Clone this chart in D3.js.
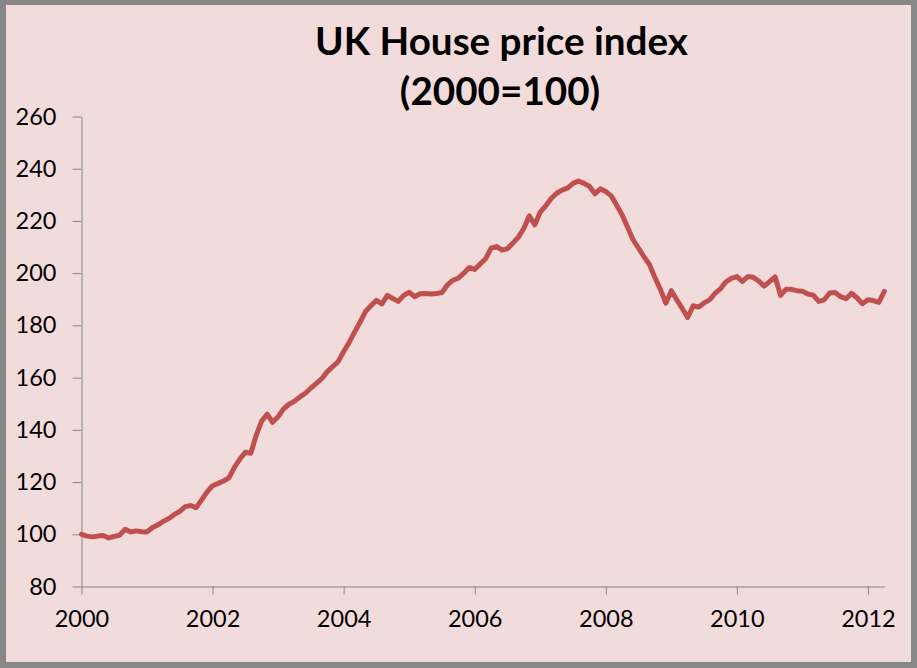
<!DOCTYPE html>
<html>
<head>
<meta charset="utf-8">
<script src="https://cdn.jsdelivr.net/npm/d3@7"></script>
<style>
  html, body { margin: 0; padding: 0; background: #ffffff; }
  svg { display: block; }
</style>
</head>
<body>
<svg id="chart" width="917" height="668"></svg>
<script>
// ---------------- DATA ----------------
const titleLines = ["UK House price index", "(2000=100)"];
const startYear = 2000;          // first monthly observation: Jan 2000
// Monthly index values, Jan 2000 .. Apr 2012 (read from the picture)
const hpi = [
  100.0, 99.3, 99.0, 99.3, 99.5, 98.6, 99.2, 99.7, 101.9, 100.9, 101.3, 101.0,
  100.9, 102.6, 103.6, 105.0, 106.0, 107.6, 108.8, 110.6, 111.0, 110.2, 113.2, 116.2,
  118.6, 119.5, 120.4, 121.6, 125.6, 128.8, 131.4, 131.0, 138.0, 143.4, 146.0, 142.9,
  145.0, 148.0, 149.8, 151.0, 152.6, 154.0, 156.0, 157.8, 159.6, 162.3, 164.2, 166.1,
  170.0, 173.4, 177.4, 181.2, 185.3, 187.5, 189.6, 188.2, 191.5, 190.3, 189.2, 191.5,
  192.7, 191.0, 192.1, 192.2, 192.0, 192.2, 192.6, 195.5, 197.3, 198.1, 200.0, 202.2,
  201.4, 203.5, 205.5, 209.6, 210.2, 208.8, 209.4, 211.5, 213.8, 217.2, 222.0, 218.5,
  223.4, 225.8, 228.6, 230.6, 231.8, 232.6, 234.4, 235.3, 234.4, 233.3, 230.4, 232.3,
  231.3, 229.6, 226.0, 222.3, 217.6, 212.8, 209.6, 206.3, 203.3, 198.3, 193.8, 188.5,
  193.3, 189.8, 186.5, 183.0, 187.5, 187.0, 188.6, 189.8, 192.3, 194.0, 196.7, 198.0,
  198.7, 196.8, 198.7, 198.4, 197.0, 195.0, 196.8, 198.6, 191.5, 193.8, 193.8, 193.3,
  193.1, 192.0, 191.6, 189.2, 189.8, 192.4, 192.6, 191.0, 190.2, 192.3, 190.6, 188.3,
  189.8, 189.5, 188.8, 193.0
];
const xTickYears = [2000, 2002, 2004, 2006, 2008, 2010, 2012];
const yTicks = [80, 100, 120, 140, 160, 180, 200, 220, 240, 260];

// ---------------- DRAWING ----------------
const W = 917, H = 668;
const FONT = "Lato, 'Open Sans', 'DejaVu Sans', sans-serif";
const svg = d3.select("#chart");

// frame + background
svg.append("rect").attr("x", 0).attr("y", 0).attr("width", W).attr("height", H).attr("fill", "#878787");
svg.append("rect").attr("x", 6).attr("y", 5).attr("width", 905).attr("height", 657).attr("fill", "#F2DCDB");

const x = d3.scaleLinear().domain([0, hpi.length - 1]).range([81.5, 884.3]);
const y = d3.scaleLinear().domain([80, 260]).range([586.5, 116.5]);

// Y axis
const yAxis = d3.axisLeft(y).tickValues(yTicks).tickSize(9).tickSizeOuter(0).tickPadding(16)
  .tickFormat(d3.format("d"));
const gy = svg.append("g").attr("transform", "translate(81.5,0)").call(yAxis);

// X axis
const xAxis = d3.axisBottom(x)
  .tickValues(xTickYears.map(yr => (yr - startYear) * 12))
  .tickFormat(m => String(startYear + m / 12))
  .tickSize(8).tickSizeOuter(0).tickPadding(16);
const gx = svg.append("g").attr("transform", "translate(0,586.5)").call(xAxis);

[gx, gy].forEach(g => {
  g.select(".domain").attr("stroke", "#868686").attr("stroke-width", 1);
  g.selectAll(".tick line").attr("stroke", "#868686").attr("stroke-width", 1);
  g.selectAll(".tick text").attr("fill", "#000").style("font-family", FONT).style("font-size", "23.5px");
});

// line
const line = d3.line().x((d, i) => x(i)).y(d => y(d));
svg.append("path").datum(hpi)
  .attr("d", line)
  .attr("fill", "none")
  .attr("stroke", "#C0504D")
  .attr("stroke-width", 5)
  .attr("stroke-linejoin", "round")
  .attr("stroke-linecap", "round");

// title
const title = svg.append("text")
  .attr("text-anchor", "middle")
  .style("font-family", FONT)
  .style("font-weight", "bold")
  .style("font-size", "36px")
  .attr("fill", "#000");
title.append("tspan").attr("x", 501.5).attr("y", 54.5).text(titleLines[0]);
title.append("tspan").attr("x", 500).attr("y", 105).text(titleLines[1]);
// fit first line to the reference width (~373px)
const t0 = title.select("tspan").node();
const w0 = t0.getComputedTextLength();
if (w0 > 0) title.style("font-size", (36 * 373 / w0).toFixed(2) + "px");
</script>
</body>
</html>
